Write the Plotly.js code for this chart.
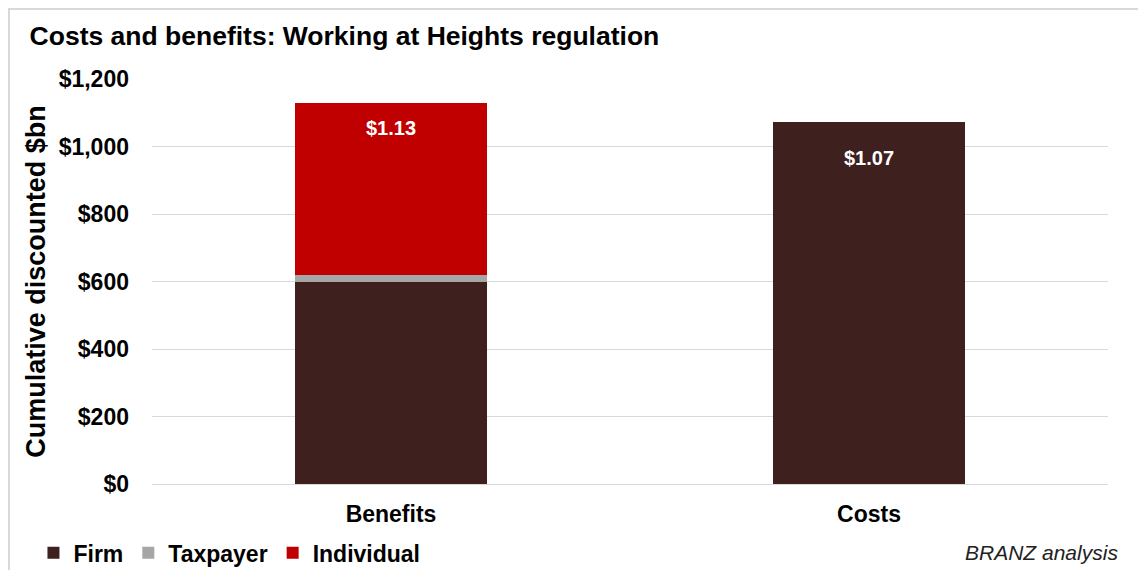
<!DOCTYPE html>
<html><head><meta charset="utf-8">
<script src="https://cdn.plot.ly/plotly-3.0.1.min.js"></script>
<style>html,body{margin:0;padding:0;background:#fff;overflow:hidden;}#chart{width:1138px;height:570px;}
#frame{position:absolute;left:8px;top:8px;width:1300px;height:700px;border-left:2px solid #d9d9d9;border-top:2px solid #d9d9d9;pointer-events:none;}</style>
</head><body>
<div id="chart"></div><div id="frame"></div>
<script>
const categories = ['Benefits', 'Costs'];
const firm = [600, 1072];
const taxpayer = [18, 0];
const individual = [512, 0];
const totals = [1130, 1072];
const labelTexts = ['$1.13', '$1.07'];
const labelOffsets = [-25, -36];
const yTicks = [0, 200, 400, 600, 800, 1000, 1200];

const F = 'Liberation Sans, Arial, sans-serif';
const traces = [
  {type:'bar', name:'Firm', x:categories, y:firm, marker:{color:'#3E201E'}, width:0.4, hoverinfo:'none'},
  {type:'bar', name:'Taxpayer', x:categories, y:taxpayer, marker:{color:'#A6A6A6'}, width:0.4, hoverinfo:'none'},
  {type:'bar', name:'Individual', x:categories, y:individual, marker:{color:'#C00000'}, width:0.4, hoverinfo:'none'}
];
const annotations = categories.map((c,i)=>({
  x:c, y:totals[i], xref:'x', yref:'y', text:'<b>'+labelTexts[i]+'</b>', showarrow:false,
  yshift:labelOffsets[i], font:{family:F, size:20, color:'#ffffff'}
}));
annotations.push({xref:'paper', yref:'paper', x:1.013, y:-0.168, xanchor:'right', yanchor:'middle',
  text:'<i>BRANZ analysis</i>', showarrow:false, font:{family:F, size:21, color:'#222'}});

const layout = {
  width:1138, height:570,
  margin:{l:152, r:30, t:79, b:86},
  paper_bgcolor:'#ffffff', plot_bgcolor:'#ffffff',
  barmode:'stack',
  title:{text:'<b>Costs and benefits: Working at Heights regulation</b>', x:0.026, xanchor:'left', y:0.938, yanchor:'middle',
    font:{family:F, size:26.5, color:'#000'}},
  xaxis:{tickfont:{family:F, size:23, color:'#000'}, showline:false, ticks:'', showgrid:false, automargin:false,
    ticklabelstandoff:14,
    tickvals:categories, ticktext:categories.map(c=>'<b>'+c+'</b>')},
  yaxis:{range:[0,1200], tickvals:yTicks, ticktext:yTicks.map(v=>'<b>$'+v.toLocaleString('en-US')+'</b>'),
    tickfont:{family:F, size:23, color:'#000'}, gridcolor:'#d9d9d9', gridwidth:1, zeroline:true, zerolinecolor:'#d9d9d9',
    ticks:'', ticklen:0, automargin:false, ticklabelstandoff:22,
    title:{text:'<b>Cumulative discounted $bn</b>', font:{family:F, size:27, color:'#000'}, standoff:5}},
  showlegend:true,
  legend:{orientation:'h', x:0.0294, y:0.03, xref:'container', yref:'container', xanchor:'left', yanchor:'middle',
    font:{family:F, size:23, color:'#000', weight:'bold'}, traceorder:'normal', itemclick:false},
  annotations:annotations
};
Plotly.newPlot('chart', traces, layout, {displayModeBar:false, staticPlot:true});
</script>
</body></html>
